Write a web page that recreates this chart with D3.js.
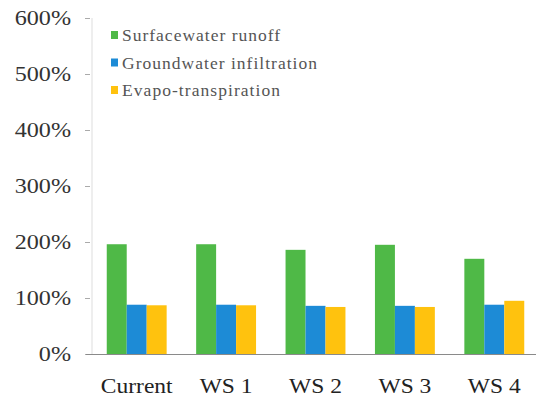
<!DOCTYPE html>
<html>
<head>
<meta charset="utf-8">
<script src="https://cdn.jsdelivr.net/npm/d3@7"></script>
<style>
  html, body { margin: 0; padding: 0; background: #fff; }
  svg { display: block; }
</style>
</head>
<body>
<svg id="chart" width="536" height="399"></svg>
<script>
// Scenario categories along the x axis
const categories = ["Current", "WS 1", "WS 2", "WS 3", "WS 4"];
// Series names (legend order)
const seriesNames = ["Surfacewater runoff", "Groundwater infiltration", "Evapo-transpiration"];
// Values as fractions (1 = 100%)
const surfaceRunoff = [1.96, 1.96, 1.86, 1.95, 1.70];
const groundwaterInfiltration = [0.88, 0.88, 0.86, 0.86, 0.88];
const evapotranspiration = [0.87, 0.87, 0.84, 0.84, 0.95];
// Y tick values
const yTicks = [0, 1, 2, 3, 4, 5, 6];

const seriesValues = [surfaceRunoff, groundwaterInfiltration, evapotranspiration];
const colors = ["#4fb947", "#1d8bd6", "#ffc20e"];
const serif = "'Liberation Serif', 'DejaVu Serif', serif";

const svg = d3.select("#chart").style("font-family", serif);
const width = 536, height = 399;
const margin = { top: 18, right: -3, bottom: 45, left: 92 };

const y = d3.scaleLinear()
  .domain([0, 6])
  .range([height - margin.bottom, margin.top]);

const x = d3.scaleBand()
  .domain(categories)
  .range([margin.left, width - margin.right])
  .paddingInner(0.33)
  .paddingOuter(0.165);

const xs = d3.scaleBand()
  .domain(d3.range(seriesNames.length))
  .range([0, x.bandwidth()]);

// Y axis: light vertical rule with short ticks to the left
const yAxis = d3.axisLeft(y)
  .tickValues(yTicks)
  .tickSize(5)
  .tickPadding(0)
  .tickFormat(d => d3.format(".0%")(d));

const yg = svg.append("g")
  .attr("transform", `translate(${margin.left - 2},0)`)
  .call(yAxis)
  .attr("font-family", null);
yg.select(".domain").remove();
yg.selectAll(".tick line").attr("stroke", "#aaa");
yg.selectAll(".tick text")
  .attr("x", 0)
  .style("font-family", serif)
  .style("font-size", "21px")
  .attr("fill", "#333")
  .attr("transform", "translate(-19,0) scale(1.15,1)");

svg.append("line")
  .attr("x1", margin.left).attr("x2", margin.left)
  .attr("y1", y(6)).attr("y2", y(0))
  .attr("stroke", "#ddd").attr("stroke-width", 1);

// Bars
const groups = svg.append("g").selectAll("g")
  .data(categories)
  .join("g")
  .attr("transform", d => `translate(${x(d)},0)`);

groups.selectAll("rect")
  .data((c, i) => seriesValues.map((vals, s) => ({ s, v: vals[i] })))
  .join("rect")
  .attr("x", d => xs(d.s))
  .attr("width", xs.bandwidth())
  .attr("y", d => y(d.v))
  .attr("height", d => y(0) - y(d.v))
  .attr("fill", d => colors[d.s]);

// Baseline / x axis
const xAxis = d3.axisBottom(x).tickSize(0).tickPadding(0);
const xg = svg.append("g")
  .attr("transform", `translate(0,${y(0)})`)
  .call(xAxis)
  .attr("font-family", null);
xg.select(".domain")
  .attr("d", `M${margin.left - 6},0.5H${width}`)
  .attr("stroke", "#8a8a8a");
xg.selectAll(".tick text")
  .attr("y", 0)
  .attr("dy", 0)
  .style("font-family", serif)
  .style("font-size", "21px")
  .attr("fill", "#222")
  .attr("transform", "translate(0,39) scale(1.12,1)");

// Legend
const legend = svg.append("g").attr("transform", "translate(111,35)");
const items = legend.selectAll("g")
  .data(seriesNames)
  .join("g")
  .attr("transform", (d, i) => `translate(0,${i * 27.5})`);
items.append("rect")
  .attr("x", 0).attr("y", -4)
  .attr("width", 7).attr("height", 8)
  .attr("fill", (d, i) => colors[i]);
items.append("text")
  .attr("x", 11).attr("y", 0)
  .attr("dy", "0.35em")
  .style("font-family", serif)
  .style("font-size", "17.5px")
  .attr("fill", "#555")
  .attr("textLength", (d, i) => [158, 195, 158][i])
  .text(d => d);
</script>
</body>
</html>
